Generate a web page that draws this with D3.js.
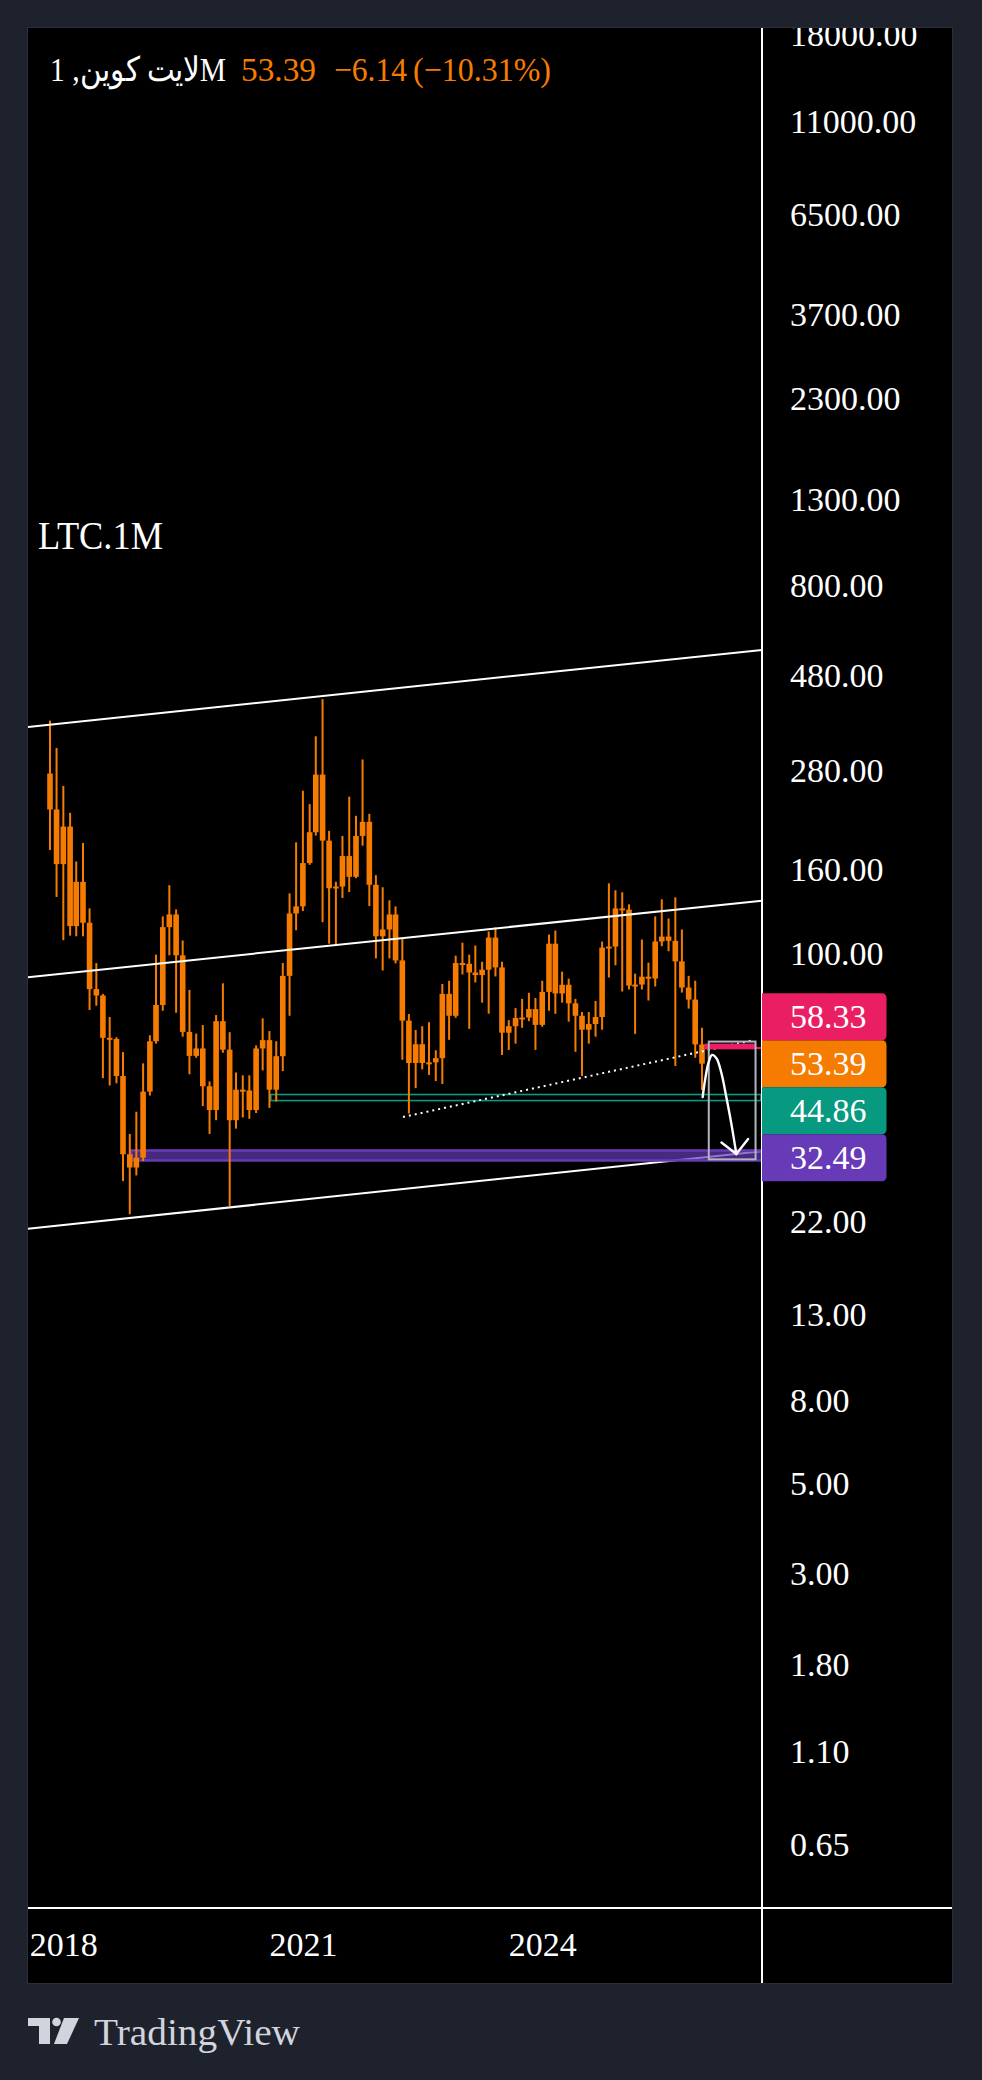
<!DOCTYPE html>
<html><head><meta charset="utf-8">
<script src="https://cdn.jsdelivr.net/npm/d3@7"></script>
<style>
html,body{margin:0;padding:0;background:#1e222d;}
svg{display:block;}
text{font-family:"Liberation Serif","DejaVu Serif",serif;}
</style></head><body>
<svg id="chart" width="982" height="2080"></svg>
<script>
// ---------- data ----------
const startMonth = "2017-11-01";
const endMonth = "2026-01-01";
const opens = [275.1,224.6,164.9,203.9,116.2,149.2,118.4,81.4,78.5,61.8,61.4,49.8,32.0,29.7,31.4,45.6,60.6,74.4,115.5,124.1,98.5,63.9,55.8,58.2,47.0,41.1,67.9,57.8,38.8,46.1,45.9,41.1,58.2,61.0,46.1,55.7,87.7,124.8,129.9,165.9,197.5,273.5,188.3,143.9,145.3,172.6,153.5,193.4,209.4,146.7,109.7,114.0,124.1,95.7,68.1,53.6,59.6,53.6,53.8,55.1,79.2,70.0,94.3,93.9,89.4,88.1,90.8,108.9,92.0,63.6,66.0,69.1,69.3,72.7,66.5,80.1,105.2,79.4,83.4,75.1,70.0,64.7,66.8,69.5,102.9,103.5,128.4,127.5,83.0,83.5,87.3,86.4,106.5,109.5,106.9,95.2,82.1,76.7,59.53];
const highs = [371,318,256.5,220.4,167.4,185.8,128.4,94.3,79.2,69.5,62.0,57.0,35.9,40.7,53.5,62.7,98.9,122.7,146.4,127.7,107.1,81.0,63.3,66.4,48.3,70.3,84.1,63.8,50.8,50.0,50.0,59.2,69.0,64.2,60.6,94.3,139.8,186.5,249.7,231.5,339.6,419,199.0,149.2,193.4,241.4,216.7,297.9,219.1,154.9,144.7,134.4,129.9,108.1,70.7,64.6,66.0,67.5,57.6,83.8,85.3,98.3,105.8,98.9,104.1,95.0,112.7,115.3,95.0,68.3,73.1,77.0,79.7,77.4,85.3,110.8,113.3,89.8,86.3,77.0,71.5,71.5,76.1,106.5,148.0,142.3,140.7,131.4,88.8,107.7,94.5,122.7,135.2,121.3,136.7,114.0,87.7,85.3,65.4];
const lows = [178.6,137,107.3,110.1,109.7,109.7,72.3,74.1,49.2,47.2,47.8,27.5,22.8,28.4,30.8,44.6,59.8,72.0,98.5,71.2,62.2,50.3,55.2,42.0,35.9,38.8,56.8,23.9,37.0,39.4,39.1,40.4,51.4,41.6,43.1,51.2,70.0,113.5,126.5,164.3,193.8,118.8,105.2,104.3,136.2,140.9,152.3,183.0,130.1,96.8,90.4,96.8,94.1,54.6,40.3,46.5,51.7,50.1,48.4,47.6,61.1,69.2,88.4,65.0,84.5,75.4,70.8,87.4,56.1,57.7,59.8,65.4,67.9,57.7,65.8,72.0,70.8,75.4,67.7,57.1,49.8,59.8,62.2,64.7,86.9,93.1,80.3,81.2,63.2,81.2,76.3,82.6,103.7,100.8,52.7,79.8,72.9,55.2,46.0];
const closes = [224.6,164.9,203.9,116.2,149.2,118.4,81.4,78.5,61.8,61.4,49.8,32.0,29.7,31.4,45.6,60.6,74.4,115.5,124.1,98.5,63.9,55.8,58.2,47.0,41.1,67.9,57.8,38.8,46.1,45.9,41.1,58.2,61.0,46.1,55.7,87.7,124.8,129.9,165.9,197.5,273.5,188.3,143.9,145.3,172.6,153.5,193.4,209.4,146.7,109.7,114.0,124.1,95.7,68.1,53.6,59.6,53.6,53.8,55.1,79.2,70.0,94.3,93.9,89.4,88.1,90.8,108.9,92.0,63.6,66.0,69.1,69.3,72.7,66.5,80.1,105.2,79.4,83.4,75.1,70.0,64.7,66.8,69.5,102.9,103.5,128.4,127.5,83.0,83.5,87.3,86.4,106.5,109.5,106.9,95.2,82.1,76.7,59.53,53.39];

const priceTicks = [18000,11000,6500,3700,2300,1300,800,480,280,160,100,22,13,8,5,3,1.8,1.1,0.65];
const yearTicks = ["2018-01-01","2021-01-01","2024-01-01"];

const channelUpper = [{date:"2017-11-01",price:362.6},{date:"2026-01-01",price:534}];
const channelMiddle = [{date:"2017-11-01",price:88.2},{date:"2026-01-01",price:129.5}];
const channelLower = [{date:"2017-11-01",price:21.3},{date:"2026-01-01",price:31.4}];
const dottedTrend = [{date:"2022-04-04",price:39.5},{date:"2026-08-30",price:61.1}];
const tealZone = {start:"2020-08-07", top:44.86, bottom:43.35};
const purpleZone = {start:"2018-11-07", top:32.7, bottom:30.9};
const pinkZone = {start:"2026-01-12", end:"2026-09-04", top:59.8, bottom:57.9, line:58.33};
const projectionBox = {start:"2026-02-01", end:"2026-09-03", top:60.5, bottom:31.1};
const arrowPath = [
  {date:"2026-01-04",price:44.2},{date:"2026-01-15",price:48.7},{date:"2026-01-30",price:53.5},
  {date:"2026-02-16",price:56.1},{date:"2026-03-08",price:55.07},{date:"2026-03-31",price:50.6},
  {date:"2026-04-22",price:44.3},{date:"2026-05-15",price:38.1},{date:"2026-06-07",price:32.06}];
const arrowWings = [{date:"2026-03-31",price:34.2},{date:"2026-07-31",price:34.9}];
const badges = [
  {price:53.39,label:"53.39",color:"#f57c00",fixed:true},
  {price:58.33,label:"58.33",color:"#e91e63"},
  {price:44.86,label:"44.86",color:"#089981"},
  {price:32.49,label:"32.49",color:"#673ab7"}];
const titleName = "لايت كوين, 1M";
const titleParts = ["53.39","−6.14","(−10.31%)"];

// ---------- layout ----------
const FX0=28, FY0=28, FX1=952, FY1=1983;
const PX1=762, PY1=1908;
const ORANGE="#f57c00";
const parse = d3.utcParse("%Y-%m-%d");
const svg = d3.select("#chart");

const x = d3.scaleUtc().domain([parse(startMonth), parse(endMonth)]).range([50,702]);
const y = d3.scaleLog().domain([0.4549,18586]).range([1907,28]);

const defs = svg.append("defs");
defs.append("clipPath").attr("id","plotClip").append("rect")
  .attr("x",FX0).attr("y",FY0).attr("width",PX1-FX0).attr("height",PY1-FY0);
defs.append("clipPath").attr("id","axisClip").append("rect")
  .attr("x",PX1).attr("y",FY0).attr("width",FX1-PX1).attr("height",PY1-FY0);

svg.append("rect").attr("width",982).attr("height",2080).attr("fill","#1e222d");
svg.append("rect").attr("x",FX0-0.5).attr("y",FY0-0.5).attr("width",FX1-FX0+1).attr("height",FY1-FY0+1)
  .attr("fill","#000").attr("stroke","#2a2e39").attr("stroke-width",1);

const plot = svg.append("g").attr("clip-path","url(#plotClip)");

function extLine(g, pts, opts){
  const p1=[x(parse(pts[0].date)), y(pts[0].price)];
  const p2=[x(parse(pts[1].date)), y(pts[1].price)];
  const k=(p2[1]-p1[1])/(p2[0]-p1[0]);
  const xa=FX0, xb=PX1;
  g.append("line").attr("x1",xa).attr("y1",p1[1]+k*(xa-p1[0]))
    .attr("x2",xb).attr("y2",p1[1]+k*(xb-p1[0]))
    .attr("stroke",opts.color||"#fff").attr("stroke-width",opts.width||2);
}

// lower channel line (under purple zone)
extLine(plot, channelLower, {});

// purple zone
plot.append("rect")
  .attr("x",x(parse(purpleZone.start))).attr("y",y(purpleZone.top))
  .attr("width",PX1-x(parse(purpleZone.start))).attr("height",y(purpleZone.bottom)-y(purpleZone.top))
  .attr("fill","#673ab7").attr("fill-opacity",0.7).attr("stroke","#673ab7").attr("stroke-width",2.5);

// teal zone
plot.append("rect")
  .attr("x",x(parse(tealZone.start))).attr("y",y(tealZone.top))
  .attr("width",PX1-1-x(parse(tealZone.start))).attr("height",y(tealZone.bottom)-y(tealZone.top))
  .attr("fill","none").attr("stroke","#089981").attr("stroke-width",1.6);

// candles
const months = d3.utcMonth.range(parse(startMonth), d3.utcMonth.offset(parse(endMonth),1));
const candles = months.map((d,i)=>({date:d,o:opens[i],h:highs[i],l:lows[i],c:closes[i]}));
const cg = plot.append("g");
cg.selectAll("rect.wick").data(candles).join("rect").attr("class","wick")
  .attr("x",d=>x(d.date)-1).attr("width",2)
  .attr("y",d=>y(d.h)).attr("height",d=>y(d.l)-y(d.h)).attr("fill",ORANGE);
cg.selectAll("rect.body").data(candles).join("rect").attr("class","body")
  .attr("x",d=>x(d.date)-2.8).attr("width",5.6)
  .attr("y",d=>Math.min(y(d.o),y(d.c)))
  .attr("height",d=>Math.max(2,Math.abs(y(d.o)-y(d.c)))).attr("fill",ORANGE);

// upper & middle channel lines
extLine(plot, channelUpper, {});
extLine(plot, channelMiddle, {});

// dotted trend
plot.append("line")
  .attr("x1",x(parse(dottedTrend[0].date))).attr("y1",y(dottedTrend[0].price))
  .attr("x2",x(parse(dottedTrend[1].date))).attr("y2",y(dottedTrend[1].price))
  .attr("stroke","#fff").attr("stroke-width",2).attr("stroke-dasharray","2,4");

// pink zone + price line
plot.append("line").attr("x1",x(parse(pinkZone.start))).attr("x2",PX1)
  .attr("y1",y(pinkZone.line)).attr("y2",y(pinkZone.line))
  .attr("stroke","#e91e63").attr("stroke-width",2);
plot.append("rect").attr("x",x(parse(pinkZone.start))).attr("y",y(pinkZone.top))
  .attr("width",x(parse(pinkZone.end))-x(parse(pinkZone.start)))
  .attr("height",y(pinkZone.bottom)-y(pinkZone.top)).attr("fill","#e91e63");

// projection box
plot.append("rect").attr("x",x(parse(projectionBox.start))).attr("y",y(projectionBox.top))
  .attr("width",x(parse(projectionBox.end))-x(parse(projectionBox.start)))
  .attr("height",y(projectionBox.bottom)-y(projectionBox.top))
  .attr("fill","none").attr("stroke","#b2b5be").attr("stroke-width",2);

// curved arrow
const curve = d3.line().x(d=>x(parse(d.date))).y(d=>y(d.price)).curve(d3.curveCatmullRom);
plot.append("path").attr("d",curve(arrowPath)).attr("fill","none")
  .attr("stroke","#fff").attr("stroke-width",2.4).attr("stroke-linecap","round");
const tip = arrowPath[arrowPath.length-1];
arrowWings.forEach(w=>{
  plot.append("line").attr("x1",x(parse(w.date))).attr("y1",y(w.price))
    .attr("x2",x(parse(tip.date))).attr("y2",y(tip.price))
    .attr("stroke","#fff").attr("stroke-width",2.4).attr("stroke-linecap","round");
});

// ---------- axes ----------
svg.append("line").attr("x1",PX1).attr("x2",PX1).attr("y1",FY0).attr("y2",FY1)
  .attr("stroke","#fff").attr("stroke-width",2);
svg.append("line").attr("x1",FX0).attr("x2",FX1).attr("y1",PY1).attr("y2",PY1)
  .attr("stroke","#fff").attr("stroke-width",2);

const yAxisG = svg.append("g").attr("clip-path","url(#axisClip)")
  .append("g").attr("transform","translate(790,0)")
  .call(d3.axisRight(y).tickValues(priceTicks).tickFormat(d3.format(".2f")).tickSize(0).tickPadding(0));
yAxisG.select(".domain").remove();
yAxisG.attr("font-size",null).attr("font-family",null);
yAxisG.selectAll("text").attr("fill","#fff").attr("font-size",34).attr("dy","0.338em")
  .attr("x",0).attr("text-anchor","start");

const xAxisG = svg.append("g").attr("transform",`translate(0,${PY1})`)
  .call(d3.axisBottom(x).tickValues(yearTicks.map(parse)).tickFormat(d3.utcFormat("%Y")).tickSize(0).tickPadding(0));
xAxisG.select(".domain").remove();
xAxisG.attr("font-size",null).attr("font-family",null);
xAxisG.selectAll("text").attr("fill","#fff").attr("font-size",34).attr("dy",null).attr("y",48);

// ---------- badges ----------
const BH=47;
const fixedB = badges.find(b=>b.fixed);
fixedB.cy = y(fixedB.price);
let prev = fixedB.cy;
badges.filter(b=>!b.fixed && b.price>fixedB.price).sort((a,b)=>a.price-b.price).forEach(b=>{
  b.cy = Math.min(y(b.price), prev-BH); prev=b.cy; });
prev = fixedB.cy;
badges.filter(b=>!b.fixed && b.price<fixedB.price).sort((a,b)=>b.price-a.price).forEach(b=>{
  b.cy = Math.max(y(b.price), prev+BH); prev=b.cy; });
const bg = svg.append("g");
badges.forEach(b=>{
  const g = bg.append("g");
  const t = g.append("text").attr("x",790).attr("y",b.cy).attr("dy","0.338em")
    .attr("font-size",34).attr("fill","#fff").text(b.label);
  const w = t.node().getComputedTextLength();
  const x0=PX1, x1=790+w+20, y0=b.cy-BH/2, y1=b.cy+BH/2, r=5;
  g.insert("path","text").attr("fill",b.color)
    .attr("d",`M${x0},${y0}H${x1-r}Q${x1},${y0} ${x1},${y0+r}V${y1-r}Q${x1},${y1} ${x1-r},${y1}H${x0}Z`);
});

// ---------- titles ----------
svg.append("text").attr("x",50).attr("y",81).attr("font-size",34).attr("fill","#fff")
  .attr("direction","ltr").attr("textLength",176).attr("lengthAdjust","spacingAndGlyphs").text(titleName);
const titleX=[241,334,413];
const titleW=[75,73,138];
titleParts.forEach((t,i)=>svg.append("text").attr("x",titleX[i]).attr("y",81)
  .attr("font-size",34).attr("fill",ORANGE)
  .attr("textLength",titleW[i]).attr("lengthAdjust","spacingAndGlyphs").text(t));
svg.append("text").attr("x",38).attr("y",549).attr("font-size",40).attr("fill","#fff")
  .attr("textLength",125).attr("lengthAdjust","spacingAndGlyphs").text("LTC.1M");

// ---------- TradingView logo ----------
const logo = svg.append("g").attr("fill","#d1d4dc");
logo.append("rect").attr("x",28).attr("y",2018).attr("width",22).attr("height",8);
logo.append("rect").attr("x",39).attr("y",2018).attr("width",11).attr("height",26);
logo.append("circle").attr("cx",56.5).attr("cy",2022).attr("r",4.3);
logo.append("path").attr("d","M64,2018H79L67,2044H54Z");
svg.append("text").attr("x",94).attr("y",2045).attr("font-size",38).attr("fill","#d1d4dc")
  .attr("textLength",206).attr("lengthAdjust","spacingAndGlyphs").text("TradingView");
</script>
</body></html>
